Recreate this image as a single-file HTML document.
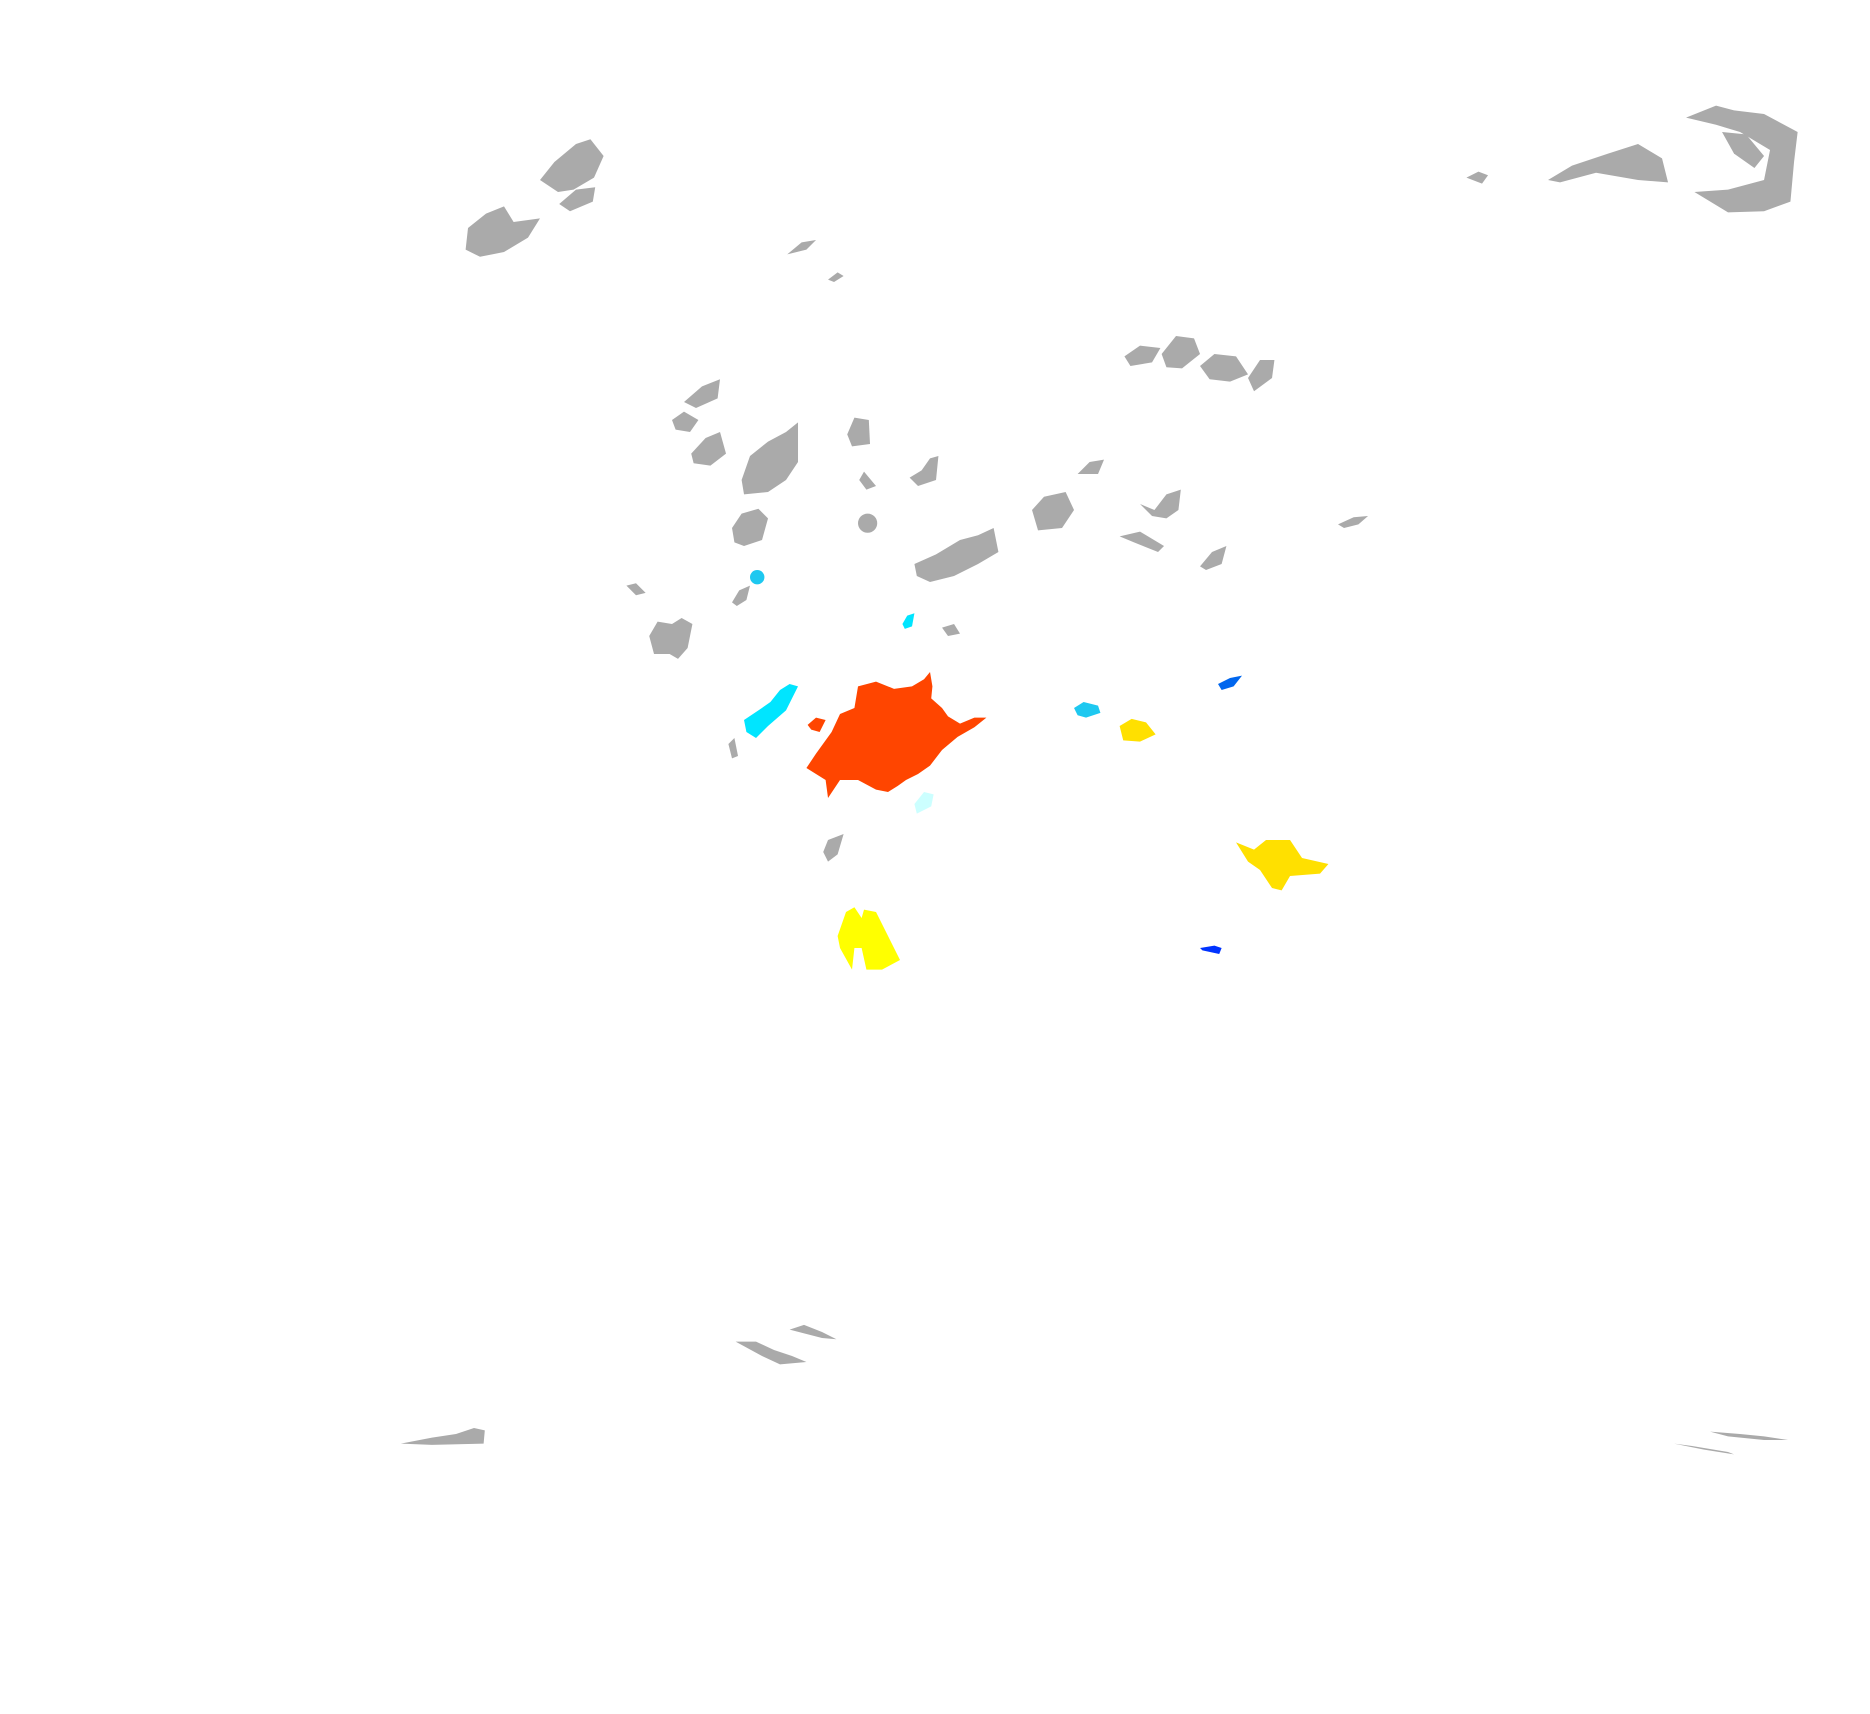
<!DOCTYPE html>
<html><head><meta charset="utf-8"><style>html,body{margin:0;padding:0;background:#fff}svg{display:block}</style></head>
<body>
<svg width="1870" height="1714" viewBox="0 0 1558.3 1428.3" preserveAspectRatio="none" xmlns="http://www.w3.org/2000/svg">
<g fill="#aaaaaa">
<path d="M390 190 L405 178 L420 172 L428 185 L450 182 L440 198 L420 210 L400 214 L388 208 Z"/>
<path d="M450 150 L462 135 L480 120 L492 116 L503 130 L495 148 L478 158 L465 160 Z"/>
<path d="M466 170 L480 158 L496 156 L494 168 L475 176 Z"/>
<path d="M656 212 L668 202 L680 200 L672 208 Z"/>
<path d="M690 233 L698 227 L703 230 L695 235 Z"/>
<path d="M937 297 L950 288 L967 290 L960 302 L942 305 Z"/>
<path d="M968 295 L980 280 L995 282 L1000 295 L985 307 L972 306 Z"/>
<path d="M1000 305 L1012 295 L1030 297 L1040 312 L1025 318 L1008 316 Z"/>
<path d="M1040 315 L1050 300 L1062 300 L1060 315 L1045 326 Z"/>
<path d="M1222 148 L1232 143 L1240 146 L1235 153 Z"/>
<path d="M1290 150 L1310 138 L1340 128 L1365 120 L1385 132 L1390 152 L1365 150 L1330 144 L1300 152 Z"/>
<path d="M1405 98 L1430 88 L1445 92 L1470 95 L1498 110 L1495 135 L1492 168 L1470 176 L1440 177 L1412 160 L1440 158 L1470 150 L1475 125 L1450 110 L1430 104 Z"/>
<path d="M1435 110 L1455 112 L1470 130 L1462 140 L1445 128 Z"/>
<path d="M570 335 L585 322 L600 316 L598 332 L580 340 Z"/>
<path d="M560 350 L570 343 L582 350 L575 360 L563 358 Z"/>
<path d="M576 378 L588 365 L600 360 L605 378 L592 388 L578 386 Z"/>
<path d="M618 400 L625 380 L640 368 L655 360 L665 352 L665 385 L655 400 L640 410 L620 412 Z"/>
<path d="M706 362 L712 348 L724 350 L725 370 L710 372 Z"/>
<path d="M716 400 L720 393 L730 405 L722 408 Z"/>
<path d="M758 398 L768 392 L775 382 L782 380 L780 400 L765 405 Z"/>
<circle cx="723" cy="436" r="8"/>
<path d="M610 440 L618 428 L632 424 L640 432 L635 450 L620 455 L612 452 Z"/>
<path d="M762 470 L780 462 L800 450 L815 446 L828 440 L832 460 L815 470 L795 480 L775 485 L764 480 Z"/>
<path d="M860 425 L870 414 L888 410 L895 425 L885 440 L865 442 Z"/>
<path d="M898 395 L908 385 L920 383 L915 395 Z"/>
<path d="M933 447 L950 443 L970 455 L965 460 L945 452 Z"/>
<path d="M950 420 L962 425 L972 412 L984 408 L982 425 L972 432 L960 430 Z"/>
<path d="M1000 472 L1010 460 L1022 455 L1018 470 L1005 475 Z"/>
<path d="M1115 437 L1128 431 L1140 430 L1132 437 L1120 440 Z"/>
<path d="M522 488 L530 486 L538 494 L530 496 Z"/>
<path d="M610 502 L616 492 L625 488 L622 500 L614 505 Z"/>
<path d="M541 530 L548 518 L560 520 L568 515 L577 520 L573 540 L565 549 L558 545 L545 545 Z"/>
<path d="M785 523 L795 520 L800 528 L790 530 Z"/>
<path d="M607 620 L612 615 L615 630 L610 632 Z"/>
<path d="M686 710 L690 700 L703 695 L698 712 L690 718 Z"/>
<path d="M613 1118 L630 1118 L645 1125 L660 1130 L672 1135 L650 1137 L635 1130 Z"/>
<path d="M658 1108 L670 1104 L685 1110 L697 1116 L685 1115 Z"/>
<path d="M334 1203 L360 1198 L380 1195 L395 1190 L404 1192 L403 1203 L360 1204 Z"/>
<path d="M1395 1203 L1410 1205 L1440 1210 L1445 1212 L1420 1208 Z"/>
<path d="M1425 1193 L1450 1195 L1470 1197 L1490 1200 L1470 1200 L1440 1197 Z"/>
</g>
<circle cx="631" cy="481" r="6" fill="#1ec8f0"/>
<path d="M752 520 L756 513 L762 511 L760 522 L754 524 Z" fill="#00e5ff"/>
<path d="M620 600 L632 592 L642 585 L650 575 L658 570 L665 572 L655 592 L640 605 L630 615 L622 610 Z" fill="#00e5ff"/>
<path d="M680 628 L693 610 L700 595 L712 590 L715 572 L730 568 L745 574 L760 572 L770 566 L775 560 L777 572 L776 582 L785 590 L790 597 L800 603 L812 598 L822 598 L812 606 L798 614 L785 625 L775 638 L765 645 L755 650 L748 655 L740 660 L730 658 L715 650 L700 650 L690 665 L688 650 L680 645 L672 640 Z" fill="#ff4500"/>
<path d="M673 604 L680 598 L688 600 L683 610 L676 608 Z" fill="#ff4500"/>
<path d="M762 670 L770 660 L778 662 L776 672 L764 678 Z" fill="#ccffff"/>
<path d="M895 590 L903 585 L915 588 L917 594 L905 598 L898 596 Z" fill="#1ec8f0"/>
<path d="M933 605 L943 599 L955 602 L963 612 L950 618 L936 617 Z" fill="#ffe000"/>
<path d="M1015 570 L1025 565 L1035 563 L1028 572 L1018 575 Z" fill="#0066ee"/>
<path d="M1030 702 L1045 708 L1055 700 L1075 700 L1085 715 L1107 720 L1100 728 L1075 730 L1068 742 L1060 740 L1050 725 L1040 718 Z" fill="#ffe000"/>
<path d="M1000 790 L1012 788 L1018 790 L1016 795 L1002 792 Z" fill="#0033ff"/>
<path d="M698 780 L705 760 L712 756 L718 765 L720 758 L730 760 L740 780 L750 800 L735 808 L722 808 L718 790 L712 790 L710 808 L700 790 Z" fill="#ffff00"/>
</svg>
</body></html>
